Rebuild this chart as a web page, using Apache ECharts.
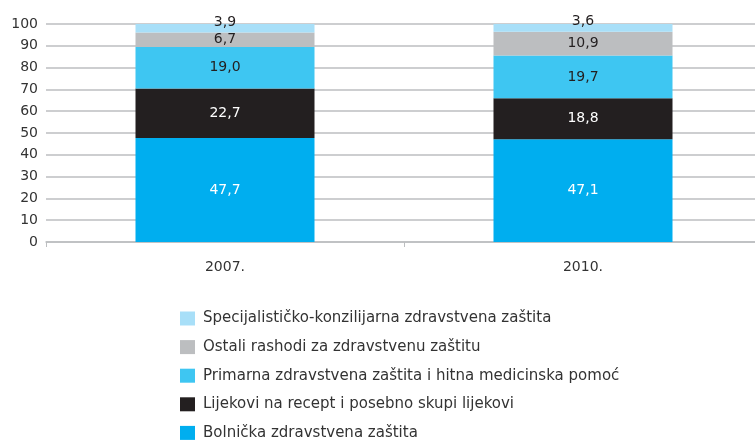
<!DOCTYPE html>
<html>
<head>
<meta charset="utf-8">
<script src="https://cdn.jsdelivr.net/npm/echarts@6/dist/echarts.min.js"></script>
<style>
  html, body { margin: 0; padding: 0; background: #fff; }
  #chart { width: 755px; height: 440px; }
</style>
</head>
<body>
<div id="chart"></div>
<script>
// kategorije (godine)
const years = ['2007.', '2010.'];

// udjeli po vrsti rashoda, % (odozdo prema gore)
const bolnicka = [47.7, 47.1];
const lijekovi = [22.7, 18.8];
const primarna = [19.0, 19.7];
const ostali = [6.7, 10.9];
const specijalisticko = [3.9, 3.6];

const seriesNames = [
    'Bolnička zdravstvena zaštita',
    'Lijekovi na recept i posebno skupi lijekovi',
    'Primarna zdravstvena zaštita i hitna medicinska pomoć',
    'Ostali rashodi za zdravstvenu zaštitu',
    'Specijalističko-konzilijarna zdravstvena zaštita'
];
const seriesData = [bolnicka, lijekovi, primarna, ostali, specijalisticko];
const colors = ['#00aeef', '#231f20', '#3ec6f2', '#bcbec0', '#a8dff8'];
const labelColors = ['#ffffff', '#ffffff', '#231f20', '#231f20', '#231f20'];

const font = '"DejaVu Sans", sans-serif';
const fmt = v => v.toFixed(1).replace('.', ',');

const chart = echarts.init(document.getElementById('chart'));

const series = seriesData.map((data, i) => ({
    name: seriesNames[i],
    type: 'bar',
    stack: 'ukupno',
    barWidth: '50%',
    data: data,
    itemStyle: { color: colors[i] },
    label: {
        show: true,
        position: 'inside',
        offset: i === 4 ? [0, -6] : [0, 0],
        color: labelColors[i],
        fontFamily: font,
        fontSize: 14,
        formatter: p => fmt(p.value)
    }
}));

chart.setOption({
    animation: false,
    textStyle: { fontFamily: font },
    grid: {
        left: 46, width: 716, top: 24, bottom: 198,
        containLabel: false, outerBoundsMode: 'none'
    },
    legend: {
        orient: 'vertical',
        left: 180,
        top: 311,
        height: 150,
        padding: 0,
        itemWidth: 15,
        itemHeight: 14,
        itemGap: 13.6,
        icon: 'rect',
        data: seriesNames.slice().reverse(),
        textStyle: { fontFamily: font, fontSize: 15, color: '#333', padding: [0, 0, 0, 3] }
    },
    xAxis: {
        type: 'category',
        data: years,
        axisLine: { lineStyle: { color: '#bcbec0', width: 1.5 } },
        axisTick: { show: true, length: 5, lineStyle: { color: '#bcbec0' } },
        axisLabel: { color: '#333', fontSize: 14, margin: 18, fontFamily: font }
    },
    yAxis: {
        type: 'value',
        min: 0,
        max: 100,
        interval: 10,
        axisLine: { show: false },
        axisTick: { show: false },
        axisLabel: { color: '#333', fontSize: 14, margin: 8, fontFamily: font },
        splitLine: { lineStyle: { color: '#bcbec0', width: 1.5 } }
    },
    series: series
});
</script>
</body>
</html>
